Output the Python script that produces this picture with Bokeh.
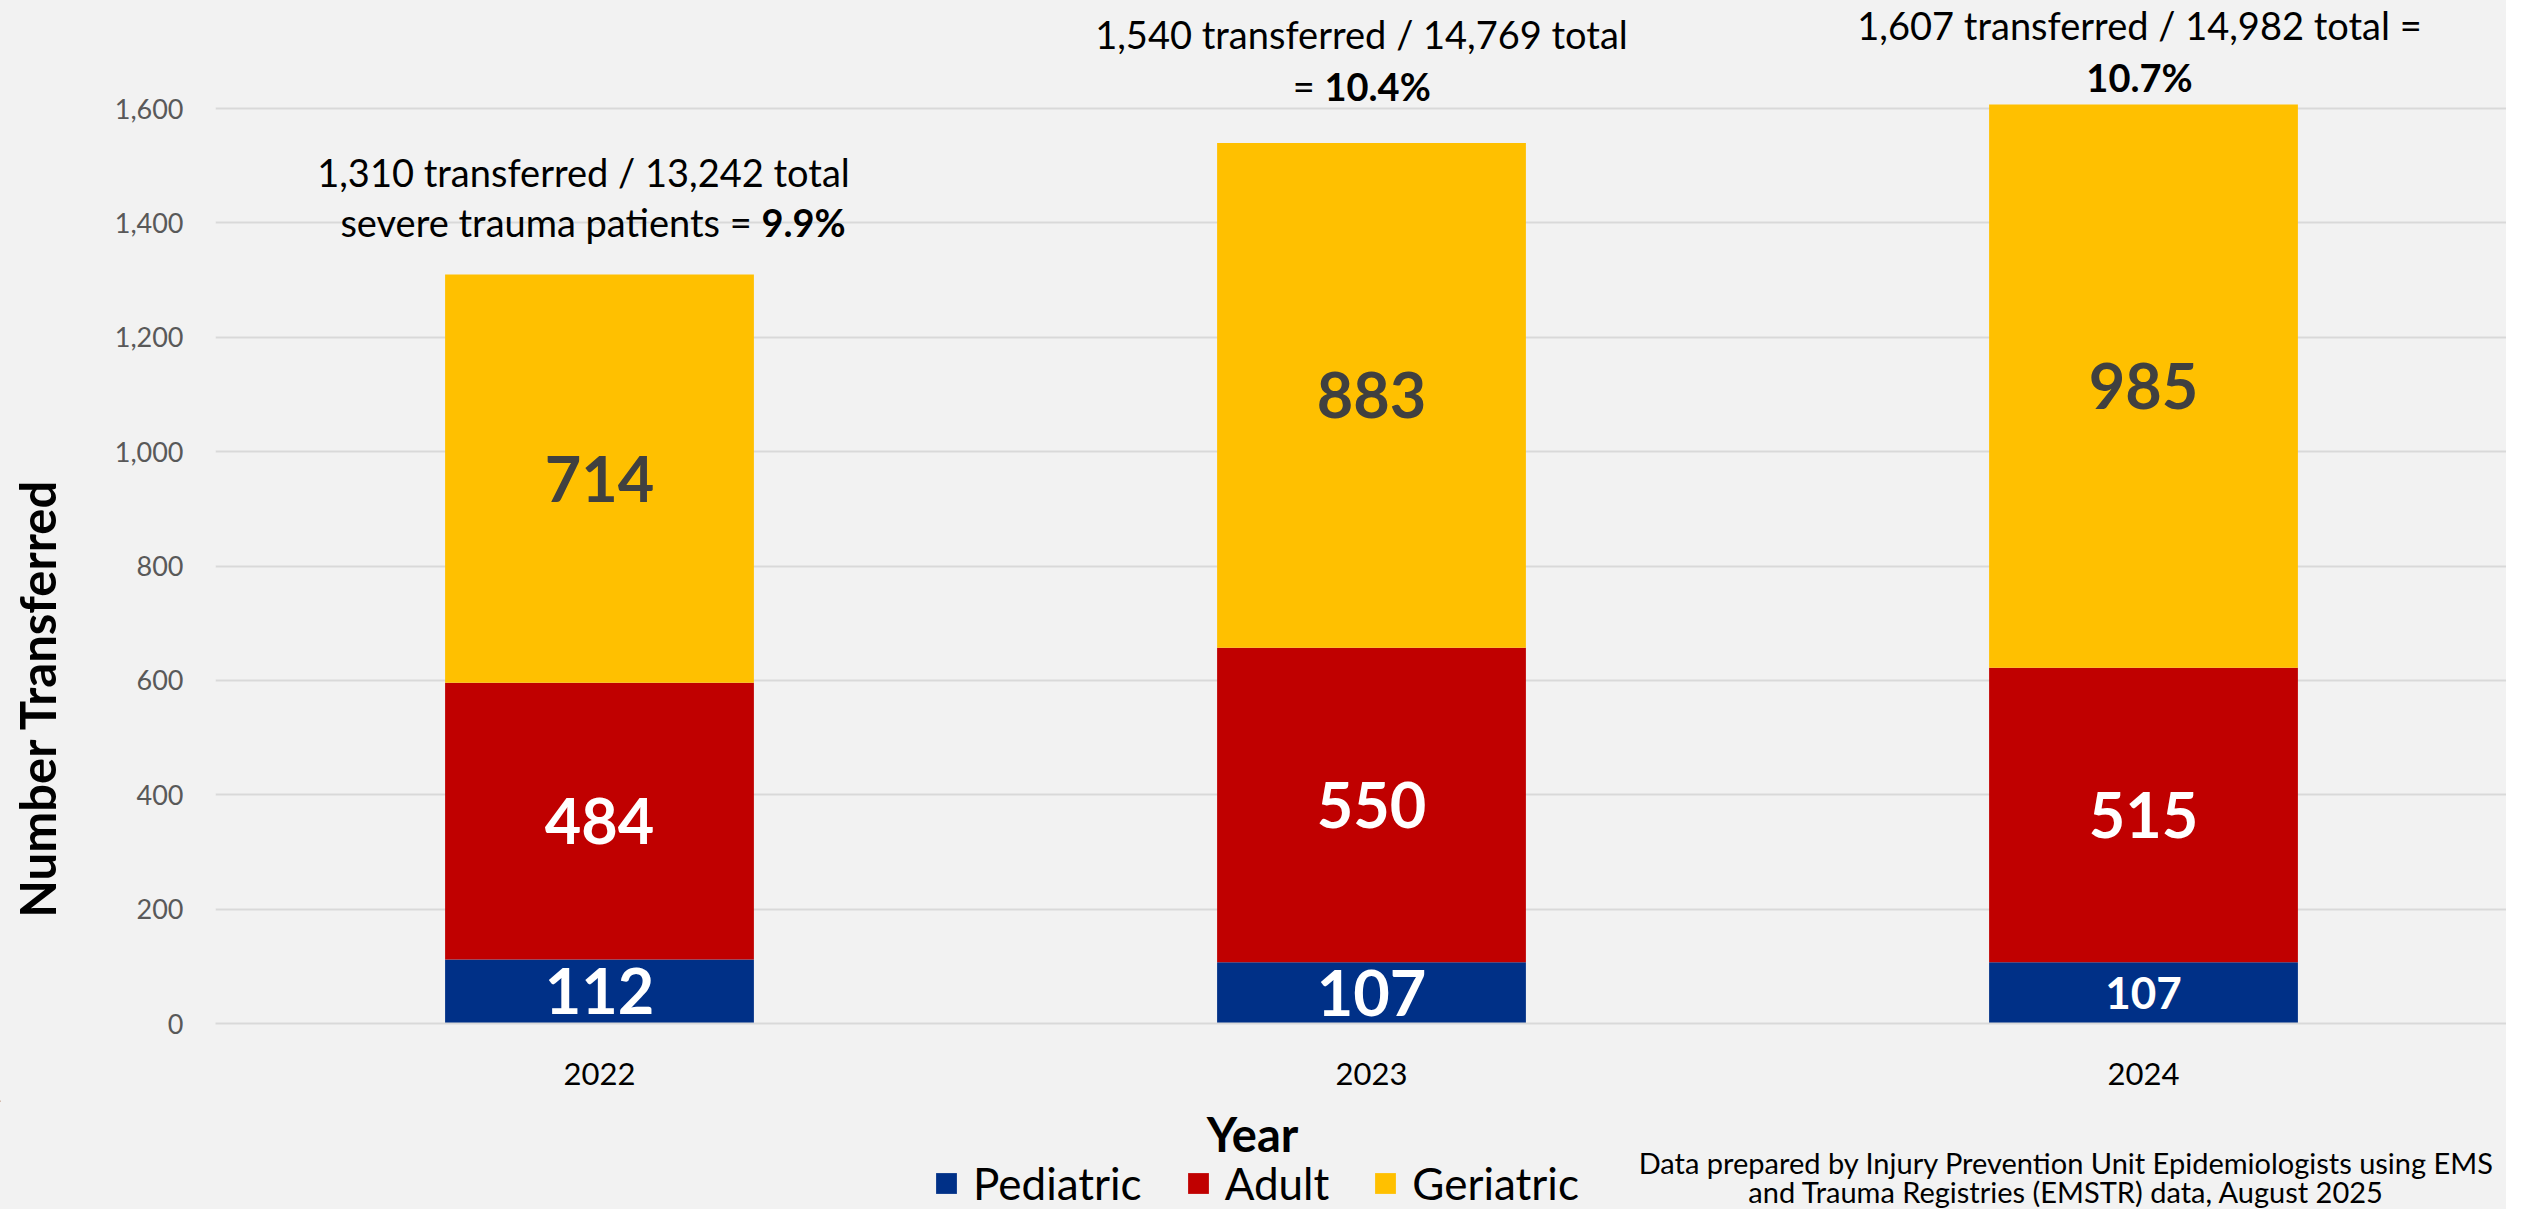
from math import pi
from bokeh.plotting import figure
from bokeh.layouts import row, column
from bokeh.models import (ColumnDataSource, Range1d, FixedTicker,
                          NumeralTickFormatter, Legend, LegendItem, Label)
from bokeh.embed import file_html
from bokeh.resources import INLINE
from bokeh.core.properties import value

# ---------------- data ----------------
years = ["2022", "2023", "2024"]
series = ["Pediatric", "Adult", "Geriatric"]
pediatric = [112, 107, 107]
adult = [484, 550, 515]
geriatric = [714, 883, 985]
transferred = [1310, 1540, 1607]
total_patients = [13242, 14769, 14982]
percent_text = ["9.9%", "10.4%", "10.7%"]
line1_suffix = ["", "", " ="]
line2_prefix = ["severe trauma patients = ", "= ", ""]
y_ticks = [0, 200, 400, 600, 800, 1000, 1200, 1400, 1600]
y_axis_title = "Number Transferred"
x_axis_title = "Year"
footnote_lines = ["Data prepared by Injury Prevention Unit Epidemiologists using EMS",
                  "and Trauma Registries (EMSTR) data, August 2025"]

# ---------------- style / layout ----------------
colors = ["#003087", "#C00000", "#FFC000"]
value_colors = ["#FFFFFF", "#FFFFFF", "#404040"]
BG = "#F2F2F2"
FONT = "Lato"

TOTAL_W, TOTAL_H = 2506, 1209
LEFT_W = 68
MAIN_W = TOTAL_W - LEFT_W
MAIN_H = 1100
BOTTOM_H = TOTAL_H - MAIN_H
FRAME_LEFT = 215 - LEFT_W
FRAME_BOTTOM = 1023


def plain(fig):
    fig.background_fill_color = BG
    fig.border_fill_color = BG
    fig.outline_line_color = None
    return fig


# ---------------- main chart ----------------
xs = list(range(len(years)))
p = plain(figure(x_range=Range1d(-0.4974, 2.4702), y_range=Range1d(0, 1789),
                 width=MAIN_W, height=MAIN_H, output_backend="svg", toolbar_location=None,
                 min_border_left=FRAME_LEFT, min_border_right=0, min_border_top=0,
                 min_border_bottom=MAIN_H - FRAME_BOTTOM))

src = ColumnDataSource(dict(x=xs, Pediatric=pediatric, Adult=adult, Geriatric=geriatric))
renderers = p.vbar_stack(series, x="x", width=0.4, color=colors, line_color=None, source=src)

# segment value labels
lx, ly, lt, lc, ls = [], [], [], [], []
seg_sizes = [["63px", "63px", "44px"], ["63px", "63px", "63px"], ["63px", "63px", "63px"]]
cols = [pediatric, adult, geriatric]
for i in xs:
    base = 0
    for j, col in enumerate(cols):
        lx.append(i)
        ly.append(base + col[i] / 2)
        lt.append(str(col[i]))
        lc.append(value_colors[j])
        ls.append(seg_sizes[j][i])
        base += col[i]
lab_src = ColumnDataSource(dict(x=lx, y=ly, t=lt, c=lc, s=ls))
p.text(x="x", y="y", text="t", text_color="c", text_font_size="s", source=lab_src,
       text_align="center", text_baseline="middle", text_font=value(FONT),
       text_font_style="bold")

# axes
p.yaxis.ticker = FixedTicker(ticks=y_ticks)
p.yaxis.formatter = NumeralTickFormatter(format="0,0")
p.yaxis.axis_line_color = None
p.yaxis.major_tick_line_color = None
p.yaxis.minor_tick_line_color = None
p.yaxis.major_label_text_font = FONT
p.yaxis.major_label_text_font_size = "27px"
p.yaxis.major_label_text_color = "#595959"
p.yaxis.major_label_standoff = 26

p.xaxis.ticker = FixedTicker(ticks=xs)
p.xaxis.major_label_overrides = {i: y for i, y in zip(xs, years)}
p.xaxis.axis_line_color = "#D9D9D9"
p.xaxis.axis_line_width = 2
p.xaxis.major_tick_line_color = None
p.xaxis.minor_tick_line_color = None
p.xaxis.major_label_text_font = FONT
p.xaxis.major_label_text_font_size = "31px"
p.xaxis.major_label_text_color = "#000000"
p.xaxis.major_label_standoff = 33

p.xgrid.grid_line_color = None
p.ygrid.grid_line_color = "#D9D9D9"
p.ygrid.grid_line_width = 2

# annotations above bars (px offsets relative to bar top / bar centre)
l1_dx = [-16, -10, -4]
l1_dy = [102, 109, 80]
l2_dx = [162, -47, -4]
l2_dy = [52, 57, 28]
ANN = dict(text_baseline="middle", text_font=FONT, text_font_size="38px", text_color="#000000")
for i in xs:
    txt1 = f"{transferred[i]:,} transferred / {total_patients[i]:,} total{line1_suffix[i]}"
    p.add_layout(Label(x=i, y=transferred[i], x_offset=l1_dx[i], y_offset=l1_dy[i],
                       text=txt1, text_align="center", **ANN))
    if line2_prefix[i]:
        p.add_layout(Label(x=i, y=transferred[i], x_offset=l2_dx[i], y_offset=l2_dy[i],
                           text=line2_prefix[i], text_align="right", **ANN))
        p.add_layout(Label(x=i, y=transferred[i], x_offset=l2_dx[i], y_offset=l2_dy[i],
                           text=percent_text[i], text_align="left", text_font_style="bold", **ANN))
    else:
        p.add_layout(Label(x=i, y=transferred[i], x_offset=l2_dx[i], y_offset=l2_dy[i],
                           text=percent_text[i], text_align="center", text_font_style="bold", **ANN))

# ---------------- left strip: y-axis title ----------------
left = plain(figure(x_range=Range1d(0, LEFT_W), y_range=Range1d(MAIN_H, 0),
                    width=LEFT_W, height=MAIN_H, output_backend="svg", toolbar_location=None,
                    x_axis_type=None, y_axis_type=None, min_border=0))
left.grid.visible = False
left.add_layout(Label(x=36, y=750, text=y_axis_title, angle=pi / 2, text_align="center",
                      text_baseline="middle", text_font=FONT, text_font_size="49px",
                      text_font_style="bold", text_color="#000000"))

# ---------------- bottom strip: x title, legend, footnote ----------------
bottom = plain(figure(x_range=Range1d(0, TOTAL_W), y_range=Range1d(BOTTOM_H, 0),
                      width=TOTAL_W, height=BOTTOM_H, output_backend="svg",
                      toolbar_location=None, x_axis_type=None, y_axis_type=None, min_border=0))
bottom.grid.visible = False
bottom.add_layout(Label(x=1252, y=1133 - MAIN_H, text=x_axis_title, text_align="center",
                        text_baseline="middle", text_font=FONT, text_font_size="47px",
                        text_font_style="bold", text_color="#000000"))
for line, yy in zip(footnote_lines, [1162, 1191]):
    bottom.add_layout(Label(x=2066, y=yy - MAIN_H, text=line, text_align="center",
                            text_baseline="middle", text_font=FONT, text_font_size="29px",
                            text_color="#000000"))

# legend swatches (renderers parked outside the visible range)
swatches = [bottom.vbar(x=[-500], top=[1], bottom=[0], width=1, color=c, line_color=None)
            for c in colors]
legend = Legend(items=[LegendItem(label=s, renderers=[r]) for s, r in zip(series, swatches)],
                orientation="horizontal", location=(933, 0),
                background_fill_alpha=0, border_line_color=None, padding=0, margin=0,
                spacing=43, label_standoff=14, glyph_width=26, glyph_height=26,
                label_text_font=FONT, label_text_font_size="44px", label_text_color="#000000")
bottom.add_layout(legend)

layout = column(row(left, p, spacing=0, styles={"background-color": BG}), bottom, spacing=0,
                styles={"background-color": BG})

open("out.html", "w").write(file_html(layout, INLINE))
